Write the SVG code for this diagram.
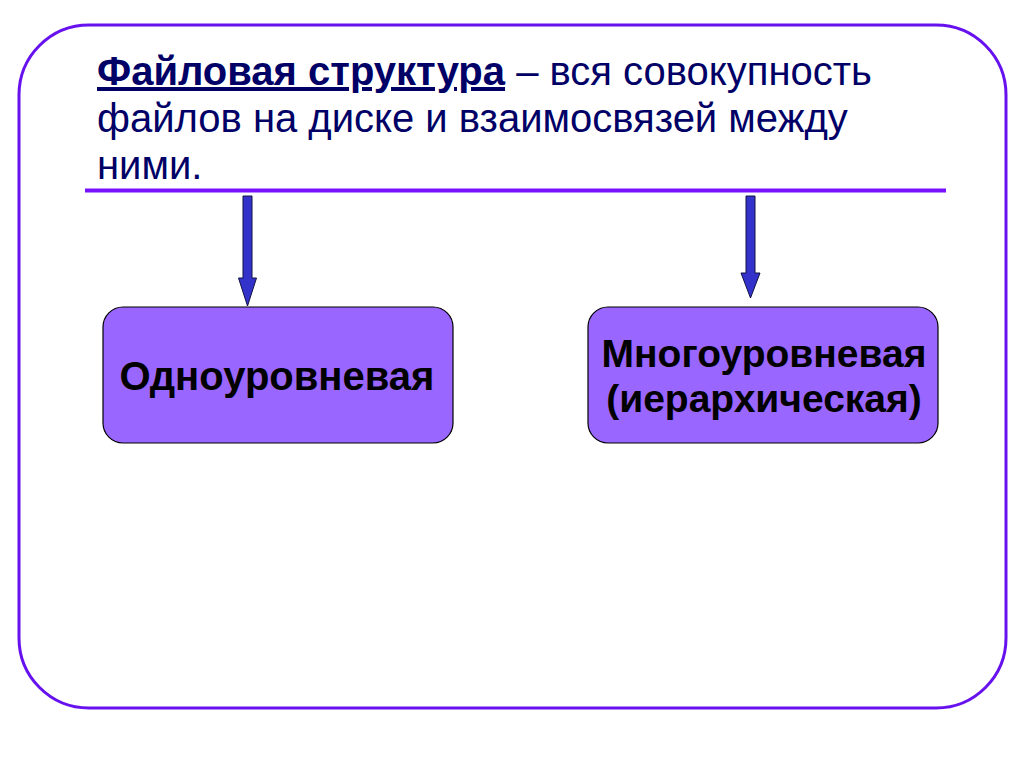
<svg xmlns="http://www.w3.org/2000/svg" width="1024" height="768" viewBox="0 0 1024 768">
<style>
.frame{fill:#ffffff;stroke:#6611ee;stroke-width:3}
.rule{stroke:#7711ff;stroke-width:4}
.head{font-family:"Liberation Sans",Arial,sans-serif;font-size:40px;fill:#000066}
.box{fill:#9966ff;stroke:#000000;stroke-width:1.2}
.lbl{font-family:"Liberation Sans",Arial,sans-serif;font-size:39px;font-weight:bold;fill:#000000;text-anchor:middle}
.arr{fill:#3333cc;stroke:#111144;stroke-width:1}
</style>
<rect width="1024" height="768" fill="#ffffff"/>
<rect class="frame" x="19" y="25" width="987" height="683" rx="70" ry="70"/>
<g id="title">
<text class="head" x="97" y="85"><tspan font-weight="bold" text-decoration="underline">Файловая структура</tspan> – вся совокупность</text>
<text class="head" x="97" y="132">файлов на диске и взаимосвязей между</text>
<text class="head" x="97" y="179">ними.</text>
</g>
<line class="rule" x1="85" y1="190.5" x2="946" y2="190.5"/>
<g id="connectors">
<polygon class="arr" points="243,196 252,196 252,278 256.5,278 247.5,306 238.5,278 243,278"/>
<polygon class="arr" points="746,196 755,196 755,273 760,273 750.5,298 741,273 746,273"/>
</g>
<g id="node-single">
<rect class="box" x="103" y="307" width="350" height="136" rx="20" ry="20"/>
<text class="lbl" x="277" y="390" style="font-size:40px">Одноуровневая</text>
</g>
<g id="node-multi">
<rect class="box" x="588" y="307" width="350" height="136" rx="20" ry="20"/>
<text class="lbl" x="764" y="367">Многоуровневая</text>
<text class="lbl" x="764" y="412">(иерархическая)</text>
</g>
</svg>
